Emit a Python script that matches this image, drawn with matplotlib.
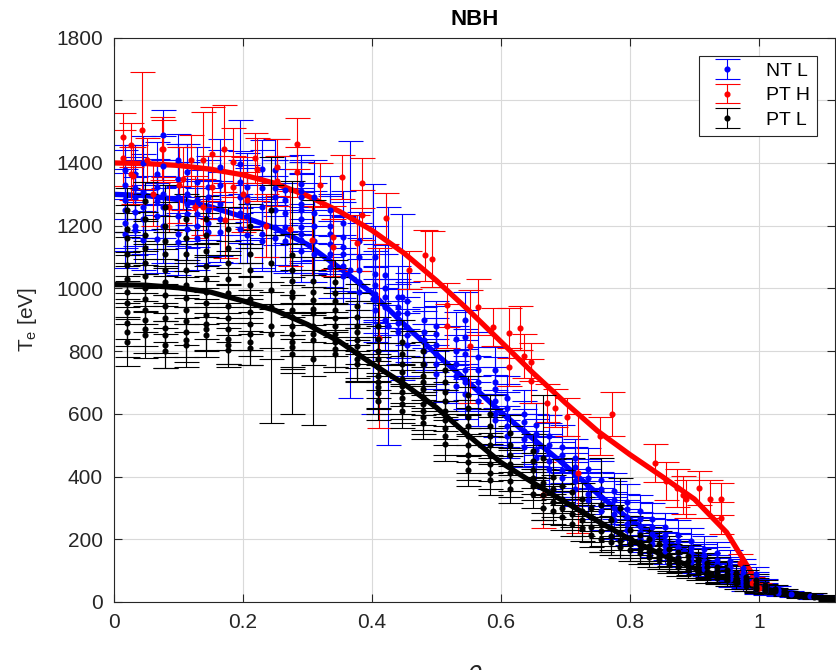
import numpy as np
import matplotlib.pyplot as plt

plt.rcParams['font.family'] = ['Liberation Sans', 'DejaVu Sans']

# ---- fit curves (knots) ----
fit_rho = [0.0, 0.05, 0.1, 0.15, 0.2, 0.25, 0.3, 0.35, 0.4, 0.45, 0.5, 0.55,
           0.6, 0.65, 0.7, 0.75, 0.8, 0.85, 0.9, 0.95, 1.0, 1.05, 1.1, 1.12]
fit_nt_l = [1300, 1296, 1283, 1260, 1228, 1192, 1140, 1065, 985, 885, 790, 700,
            605, 520, 435, 345, 262, 200, 150, 100, 58, 30, 15, 12]
fit_pt_l = [1012, 1010, 1002, 988, 960, 930, 885, 830, 760, 695, 620, 530,
            445, 380, 318, 258, 200, 150, 108, 75, 45, 25, 12, 10]
fit_pt_h = [1400, 1398, 1392, 1380, 1362, 1335, 1295, 1245, 1185, 1112, 1025, 930,
            830, 730, 635, 545, 470, 400, 328, 222, 55]

# ---- NT L (blue) data, grouped by radial column ----
ntl_rho = [0.017, 0.033, 0.045, 0.067, 0.076, 0.099, 0.113, 0.129, 0.146, 0.164,
           0.195, 0.206, 0.229, 0.25, 0.265, 0.29, 0.31, 0.335, 0.355, 0.366,
           0.38, 0.402, 0.405, 0.42, 0.425, 0.44, 0.446, 0.455, 0.48, 0.50,
           0.53, 0.545, 0.565, 0.59, 0.61, 0.635, 0.655, 0.675, 0.695, 0.715,
           0.735, 0.755, 0.775, 0.795, 0.815, 0.835, 0.855, 0.875, 0.895, 0.915,
           0.935, 0.955, 0.975, 0.995, 1.01, 1.03, 1.05, 1.08]
ntl_te = [
    [1376, 1330, 1281, 1249, 1210, 1175],
    [1366, 1320, 1290, 1244, 1200, 1185],
    [1400, 1307, 1260, 1220, 1153],
    [1366, 1323, 1280, 1230, 1158],
    [1488, 1390, 1300, 1260, 1200],
    [1408, 1350, 1290, 1230, 1174, 1148],
    [1371, 1302, 1270, 1238, 1190],
    [1340, 1281, 1238, 1200, 1160],
    [1323, 1290, 1250, 1210, 1180],
    [1387, 1330, 1270, 1222, 1180],
    [1397, 1339, 1290, 1240, 1190],
    [1323, 1290, 1275, 1230, 1170],
    [1382, 1320, 1260, 1174, 1150],
    [1376, 1320, 1290, 1249, 1196, 1160],
    [1313, 1281, 1240, 1196, 1150],
    [1334, 1310, 1292, 1270, 1249, 1220, 1196, 1175, 1153, 1120],
    [1290, 1240, 1200, 1150, 1110],
    [1250, 1200, 1175, 1140, 1111, 1068],
    [1210, 1164, 1132, 1111, 1070, 1040],
    [1060],
    [1150, 1100, 1060, 1020, 990],
    [967],
    [1100, 1047, 1010, 983, 962, 930],
    [1042, 1000, 973, 940, 900],
    [880],
    [973, 940, 920, 889, 860],
    [973],
    [960, 920, 878, 850, 820],
    [900, 860, 834, 800, 760],
    [880, 855, 820, 791, 760, 728],
    [840, 800, 760, 720, 690],
    [898, 845, 790, 739, 700, 664],
    [780, 739, 700, 680, 640],
    [739, 700, 680, 640, 601, 580],
    [650, 620, 590, 560, 530],
    [600, 575, 545, 520, 495],
    [565, 535, 510, 485, 460],
    [530, 500, 475, 450, 425],
    [495, 470, 445, 420, 395],
    [460, 430, 405, 385, 360],
    [425, 395, 370, 345, 325],
    [390, 360, 335, 310, 290],
    [355, 325, 300, 280, 260],
    [320, 295, 270, 248, 228],
    [290, 265, 242, 222, 205],
    [265, 240, 218, 200, 185],
    [240, 215, 195, 178, 162],
    [215, 195, 175, 160, 145],
    [195, 172, 155, 140, 126],
    [170, 150, 132, 118, 105],
    [155, 135, 120, 106, 94],
    [130, 112, 96, 84, 74],
    [108, 92, 78, 66, 56],
    [88, 74, 62, 50, 40],
    [55, 44, 34],
    [38, 28],
    [26],
    [18],
]
ntl_err = [
    [80, 110, 100, 120, 90, 110],
    [90, 100, 120, 110, 95, 105],
    [85, 120, 100, 110, 95],
    [100, 90, 120, 105, 110],
    [80, 95, 110, 100, 120],
    [85, 110, 100, 95, 120, 105],
    [90, 100, 120, 110, 100],
    [110, 95, 105, 120, 100],
    [100, 120, 95, 110, 105],
    [90, 110, 100, 120, 95],
    [140, 100, 120, 95, 110],
    [110, 95, 120, 100, 90],
    [90, 120, 100, 110, 95],
    [100, 90, 120, 110, 95, 105],
    [110, 100, 95, 120, 100],
    [90, 100, 110, 95, 120, 100, 110, 95, 105, 100],
    [120, 95, 110, 100, 90],
    [110, 100, 120, 95, 105, 100],
    [100, 110, 95, 120, 100, 90],
    [410],
    [95, 110, 100, 90, 105],
    [367],
    [100, 95, 110, 90, 105, 100],
    [95, 110, 100, 90, 100],
    [380],
    [100, 90, 95, 110, 100],
    [265],
    [90, 100, 95, 85, 100],
    [90, 80, 95, 85, 90],
    [80, 90, 85, 95, 80, 90],
    [85, 80, 90, 85, 80],
    [90, 85, 80, 95, 85, 80],
    [80, 75, 85, 70, 80],
    [75, 80, 70, 85, 75, 80],
    [70, 75, 80, 65, 70],
    [75, 65, 70, 80, 65],
    [70, 65, 75, 60, 70],
    [65, 70, 60, 75, 65],
    [70, 60, 65, 70, 60],
    [60, 65, 70, 60, 55],
    [65, 60, 55, 65, 60],
    [60, 55, 65, 55, 60],
    [55, 60, 50, 55, 60],
    [55, 50, 55, 50, 45],
    [50, 55, 45, 50, 45],
    [50, 45, 50, 45, 40],
    [45, 50, 40, 45, 40],
    [45, 40, 45, 40, 35],
    [40, 45, 35, 40, 35],
    [40, 35, 40, 35, 30],
    [35, 40, 30, 35, 30],
    [35, 30, 30, 25, 25],
    [30, 28, 25, 22, 20],
    [25, 22, 20, 18, 15],
    [18, 15, 12],
    [14, 10],
    [10],
    [8],
]

# ---- PT H (red) data ----
pth_rho = [0.014, 0.014, 0.026, 0.027, 0.03, 0.044, 0.051, 0.06, 0.074, 0.076,
           0.086, 0.1, 0.107, 0.119, 0.125, 0.138, 0.138, 0.152, 0.152, 0.17,
           0.172, 0.185, 0.185, 0.2, 0.206, 0.219, 0.222, 0.235, 0.252, 0.252,
           0.273, 0.284, 0.284, 0.307, 0.319, 0.34, 0.34, 0.353, 0.377, 0.385,
           0.385, 0.411, 0.422, 0.457, 0.482, 0.493, 0.517, 0.517, 0.552, 0.564,
           0.587, 0.612, 0.612, 0.629, 0.636, 0.646, 0.646, 0.665, 0.672, 0.684,
           0.702, 0.719, 0.753, 0.772, 0.839, 0.856, 0.873, 0.883, 0.887, 0.907,
           0.924, 0.942, 0.942, 0.971, 0.99, 1.0]
pth_te = [1482, 1415, 1456, 1366, 1360, 1504, 1408, 1300, 1446, 1446,
          1259, 1330, 1350, 1408, 1260, 1411, 1259, 1430, 1322, 1446,
          1217, 1402, 1322, 1300, 1281, 1415, 1380, 1200, 1386, 1343,
          1190, 1462, 1370, 1153, 1329, 1163, 1131, 1355, 1144, 1335,
          1233, 841, 1223, 1058, 1105, 1093, 946, 879, 816, 940,
          876, 857, 749, 873, 784, 765, 704, 341, 634, 618,
          589, 411, 529, 599, 443, 385, 363, 341, 328, 363,
          328, 328, 268, 124, 60, 45]
pth_err = [76, 90, 70, 85, 90, 186, 70, 100, 100, 90,
           80, 120, 100, 80, 100, 150, 90, 150, 100, 140,
           120, 110, 100, 120, 90, 80, 100, 100, 90, 80,
           120, 80, 80, 110, 70, 100, 90, 70, 90, 80,
           80, 287, 80, 60, 80, 90, 70, 70, 180, 90,
           60, 80, 60, 70, 70, 60, 70, 106, 60, 60,
           60, 190, 60, 70, 60, 60, 60, 60, 60, 55,
           60, 50, 50, 30, 20, 15]

# ---- PT L (black) data, grouped by radial column ----
ptl_rho = [0.020, 0.048, 0.079, 0.112, 0.143, 0.177, 0.211, 0.244, 0.276, 0.309,
           0.343, 0.376, 0.409, 0.446, 0.479, 0.513, 0.549, 0.583, 0.614, 0.650,
           0.665, 0.680, 0.695, 0.710, 0.725, 0.740, 0.755, 0.770, 0.785, 0.800,
           0.815, 0.830, 0.845, 0.860, 0.875, 0.890, 0.905, 0.920, 0.935, 0.950,
           0.965, 0.980, 0.995, 1.010, 1.025, 1.040, 1.060, 1.085, 1.110]
ptl_te = [
    [1250, 1190, 1160, 1110, 1075, 1030, 990, 955, 925, 890, 860, 828],
    [1280, 1220, 1170, 1130, 1080, 1040, 1000, 965, 930, 900, 870, 852],
    [1260, 1200, 1150, 1110, 1060, 1020, 980, 945, 905, 875, 850, 820, 800],
    [1220, 1160, 1110, 1060, 1010, 970, 930, 895, 862, 835, 818],
    [1220, 1170, 1120, 1070, 1030, 990, 955, 915, 885, 870, 850],
    [1190, 1130, 1080, 1030, 985, 945, 905, 872, 840, 820, 805],
    [1200, 1110, 1060, 1010, 965, 925, 885, 855, 830, 810],
    [1250, 1080, 994, 940, 880, 855],
    [1105, 1060, 1025, 990, 971, 930, 910, 880, 855, 830, 812, 790],
    [1025, 990, 962, 935, 923, 880, 855, 835, 775],
    [1020, 985, 960, 930, 905, 880, 855, 830, 808, 790],
    [945, 910, 880, 860, 835, 815, 795, 775, 760],
    [880, 840, 800, 775, 750, 720, 700, 685, 665, 640],
    [830, 790, 760, 735, 710, 690, 670, 650, 630, 610],
    [800, 760, 720, 700, 680, 655, 630, 610, 590, 570],
    [740, 700, 670, 640, 610, 580, 555, 530, 505],
    [660, 620, 590, 560, 530, 500, 470, 445, 420],
    [600, 560, 530, 500, 470, 440, 410, 390],
    [540, 500, 470, 440, 410, 385, 360],
    [480, 450, 420, 395, 370, 345],
    [460, 380, 340, 300],
    [400, 360, 320, 290],
    [370, 330, 300, 270],
    [350, 310, 280, 250],
    [330, 290, 260, 235],
    [300, 270, 240, 215],
    [310, 250, 225, 200],
    [260, 235, 210, 190],
    [300, 220, 195, 175],
    [230, 205, 185, 165],
    [215, 190, 170, 155],
    [200, 180, 160, 145],
    [185, 165, 148, 135],
    [170, 150, 135, 122],
    [160, 140, 125, 112],
    [148, 130, 115, 103],
    [135, 120, 106, 95],
    [125, 110, 97, 86],
    [112, 100, 88, 78],
    [102, 90, 80, 70],
    [92, 80, 70, 60],
    [80, 70, 60, 50],
    [70, 58, 48, 40],
    [55, 45, 36],
    [42, 34],
    [32, 26],
    [25, 20],
    [20, 15],
    [14, 10],
]
ptl_err = [
    [70, 75, 80, 70, 90, 75, 80, 70, 85, 75, 80, 75],
    [60, 80, 75, 85, 70, 80, 75, 80, 70, 85, 75, 75],
    [70, 75, 80, 70, 80, 75, 85, 70, 75, 80, 70, 75, 55],
    [80, 70, 75, 80, 70, 85, 70, 75, 80, 70, 70],
    [75, 70, 80, 70, 75, 80, 70, 75, 80, 70, 70],
    [70, 80, 70, 75, 80, 70, 75, 70, 80, 70, 45],
    [70, 75, 80, 70, 75, 70, 80, 70, 75, 55],
    [80, 90, 424, 80, 70, 80],
    [70, 80, 75, 70, 373, 80, 70, 75, 70, 80, 70, 60],
    [75, 70, 80, 70, 358, 75, 70, 80, 55],
    [70, 80, 75, 70, 80, 75, 70, 80, 60, 55],
    [70, 75, 80, 70, 75, 70, 80, 70, 60],
    [75, 70, 80, 70, 75, 70, 80, 70, 65, 60],
    [70, 75, 65, 70, 75, 65, 70, 65, 60, 55],
    [65, 70, 60, 65, 70, 60, 65, 60, 55, 50],
    [65, 60, 70, 60, 65, 60, 55, 60, 55],
    [60, 65, 55, 60, 65, 55, 60, 55, 50],
    [60, 55, 60, 55, 60, 55, 50, 50],
    [55, 60, 55, 50, 55, 50, 45],
    [55, 50, 55, 50, 45, 45],
    [200, 45, 55, 40],
    [55, 45, 50, 40],
    [50, 45, 55, 40],
    [110, 45, 50, 40],
    [50, 45, 50, 40],
    [55, 45, 50, 40],
    [150, 45, 45, 40],
    [50, 40, 45, 40],
    [95, 40, 45, 35],
    [45, 40, 45, 35],
    [45, 40, 40, 35],
    [40, 40, 35, 35],
    [40, 35, 35, 30],
    [40, 35, 35, 30],
    [35, 35, 30, 30],
    [35, 30, 30, 28],
    [35, 30, 28, 25],
    [30, 30, 25, 25],
    [30, 28, 25, 22],
    [28, 25, 22, 20],
    [25, 22, 20, 18],
    [22, 20, 18, 15],
    [20, 18, 15, 12],
    [15, 12, 10],
    [12, 10],
    [10, 8],
    [8, 8],
    [8, 7],
    [7, 6],
]


def flatten(rho_cols, te_cols, err_cols):
    x, y, e = [], [], []
    for r, ts, es in zip(rho_cols, te_cols, err_cols):
        for t, s in zip(ts, es):
            x.append(r)
            y.append(t)
            e.append(s)
    return np.array(x), np.array(y), np.array(e)


fig = plt.figure(figsize=(8.36, 6.70), dpi=100)
ax = fig.add_axes([0.1364, 0.1015, 0.8624, 0.8425])

style = dict(fmt='o', markersize=3.4, elinewidth=0.8, capsize=9, capthick=0.8,
             linestyle='none')

x, y, e = flatten(ntl_rho, ntl_te, ntl_err)
ax.errorbar(x, y, yerr=e, color=(0, 0, 1), label='NT L', **style)
ax.plot(fit_rho, fit_nt_l, color=(0, 0, 1), lw=3.8, solid_capstyle='round')

ax.errorbar(pth_rho, pth_te, yerr=pth_err, color=(1, 0, 0), label='PT H', **style)
ax.plot(fit_rho[:len(fit_pt_h)], fit_pt_h, color=(1, 0, 0), lw=3.8,
        solid_capstyle='round')

x, y, e = flatten(ptl_rho, ptl_te, ptl_err)
ax.errorbar(x, y, yerr=e, color='black', label='PT L', **style)
ax.plot(fit_rho, fit_pt_l, color='black', lw=3.8, solid_capstyle='round')

ax.set_xlim(0, 1.118)
ax.set_ylim(0, 1800)
ax.set_xticks([0, 0.2, 0.4, 0.6, 0.8, 1])
ax.set_xticklabels(['0', '0.2', '0.4', '0.6', '0.8', '1'])
ax.set_yticks(range(0, 1801, 200))
ax.grid(True, color='#d9d9d9', lw=0.8)
ax.set_axisbelow(True)
ax.tick_params(direction='in', top=True, right=True, length=6, width=0.8,
               labelsize=15, colors='#262626', pad=8)
for sp in ax.spines.values():
    sp.set_color('#262626')
    sp.set_linewidth(0.8)

ax.set_title('NBH', fontsize=16, fontweight='bold', pad=9)
ax.set_ylabel('T$_\\mathregular{e}$ [eV]', fontsize=15, color='#262626', labelpad=12)
ax.set_xlabel('$\\rho$', fontsize=17, color='#262626', labelpad=22)

leg = ax.legend(loc='upper right', bbox_to_anchor=(0.975, 0.968), fontsize=14,
                fancybox=False, framealpha=1, edgecolor='#262626',
                handlelength=2.2, handletextpad=0.9, labelspacing=0.35,
                borderpad=0.35, borderaxespad=0)
leg.get_frame().set_linewidth(0.8)

fig.savefig('out.png', dpi=100)
